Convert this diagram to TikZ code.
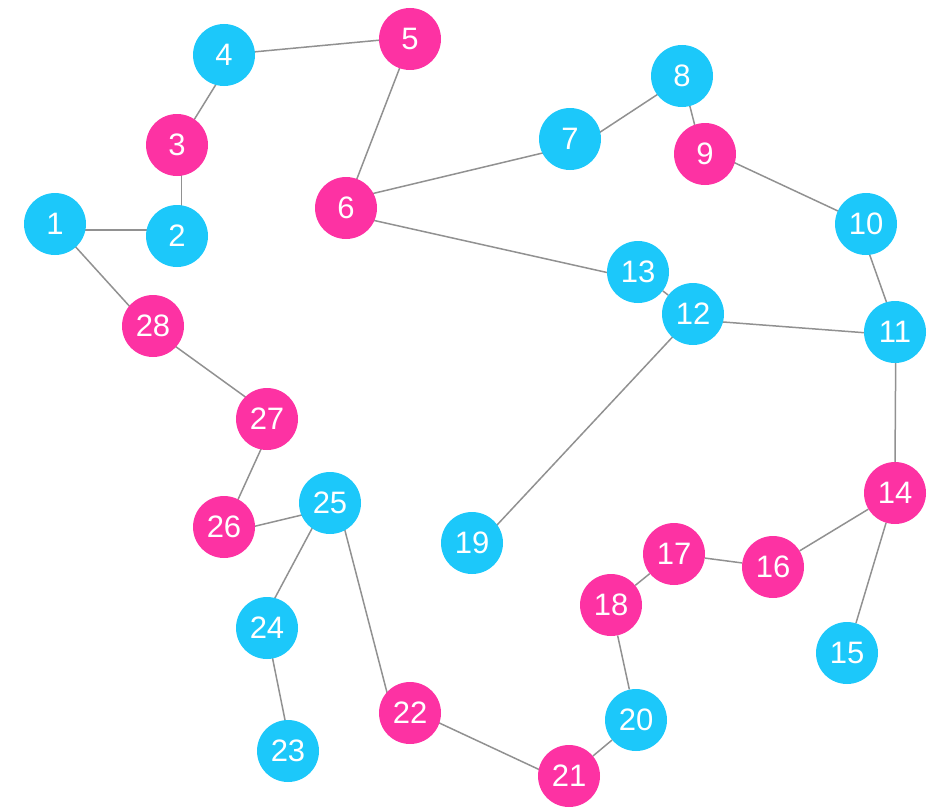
\documentclass[tikz,border=0pt]{standalone}
\usepackage{fontspec}
\setmainfont{Liberation Sans}
\usetikzlibrary{backgrounds,calc}
\definecolor{cy}{RGB}{28,200,250}
\definecolor{pk}{RGB}{253,50,163}
\definecolor{eg}{RGB}{145,145,145}
\tikzset{
  vtx/.style={circle,minimum size=62pt,inner sep=0pt,text=white,font=\fontsize{31}{31}\selectfont},
  c/.style={vtx,fill=cy},
  p/.style={vtx,fill=pk},
  edge/.style={draw=eg,line width=1.5pt}
}
\newcommand\edgeline[6]{\draw[edge] ($(n#1)+(#2,#3)$) -- ($(n#4)+(#5,#6)$);}
\begin{document}
\begin{tikzpicture}[x=1pt,y=-1pt]
\useasboundingbox (0,0) rectangle (934,808);
\node[c] (n1) at (55,224) {1};
\node[c] (n2) at (177,236) {2};
\node[p] (n3) at (177,145) {3};
\node[c] (n4) at (224,55) {4};
\node[p] (n5) at (410,39) {5};
\node[p] (n6) at (346,208) {6};
\node[c] (n7) at (570,139) {7};
\node[c] (n8) at (682,76) {8};
\node[p] (n9) at (705,154) {9};
\node[c] (n10) at (866,224) {10};
\node[c] (n11) at (895,332) {11};
\node[c] (n12) at (693,314) {12};
\node[c] (n13) at (638,272) {13};
\node[p] (n14) at (895,493) {14};
\node[c] (n15) at (847,653) {15};
\node[p] (n16) at (773,567) {16};
\node[p] (n17) at (674,554) {17};
\node[p] (n18) at (611,605) {18};
\node[c] (n19) at (472,543) {19};
\node[c] (n20) at (636,720) {20};
\node[p] (n21) at (569,776) {21};
\node[p] (n22) at (410,713) {22};
\node[c] (n23) at (288,751) {23};
\node[c] (n24) at (267,628) {24};
\node[c] (n25) at (330,503) {25};
\node[p] (n26) at (224,527) {26};
\node[p] (n27) at (267,419) {27};
\node[p] (n28) at (153,326) {28};
\begin{pgfonlayer}{background}
\edgeline{1}{27}{6}{2}{-26}{-6}
\edgeline{2}{4.7}{-27}{3}{4.7}{27}
\edgeline{3}{15.9}{-23.3}{4}{-6.9}{27.6}
\edgeline{4}{28}{-2.9}{5}{-27.7}{0.9}
\edgeline{5}{-9.3}{26.3}{6}{9.3}{-25}
\edgeline{6}{24.1}{-13.8}{7}{-24.8}{13.4}
\edgeline{6}{25.1}{11.8}{13}{-26.1}{1.6}
\edgeline{7}{27.4}{-5.1}{8}{-22}{16.8}
\edgeline{8}{7}{26.8}{9}{-9.3}{-25.1}
\edgeline{9}{27.1}{7.6}{10}{-24.4}{-11.3}
\edgeline{10}{2.4}{27.2}{11}{-7}{-25.5}
\edgeline{12}{26.3}{7.7}{11}{-27}{1}
\edgeline{12}{-19}{21.4}{19}{22.3}{-15.1}
\edgeline{11}{0.7}{26.7}{14}{0}{-27}
\edgeline{27}{-4.3}{26.4}{26}{12.6}{-24.4}
\edgeline{26}{28.1}{-0.1}{25}{-24.4}{11.1}
\edgeline{25}{-16.4}{22.5}{24}{6.4}{-27.2}
\edgeline{25}{14}{23.8}{22}{-22.3}{-17.8}
\edgeline{24}{4.9}{27.1}{23}{-2.2}{-27.1}
\edgeline{22}{25.7}{8.3}{21}{-27.4}{-5.3}
\edgeline{28}{20.5}{19}{27}{-18.8}{-20}
\edgeline{1}{18.3}{20.3}{28}{-21}{-17}
\foreach \a/\b in {13/12,14/15,14/16,16/17,17/18,18/20,20/21}
  \draw[edge] (n\a) -- (n\b);
\end{pgfonlayer}
\end{tikzpicture}
\end{document}
